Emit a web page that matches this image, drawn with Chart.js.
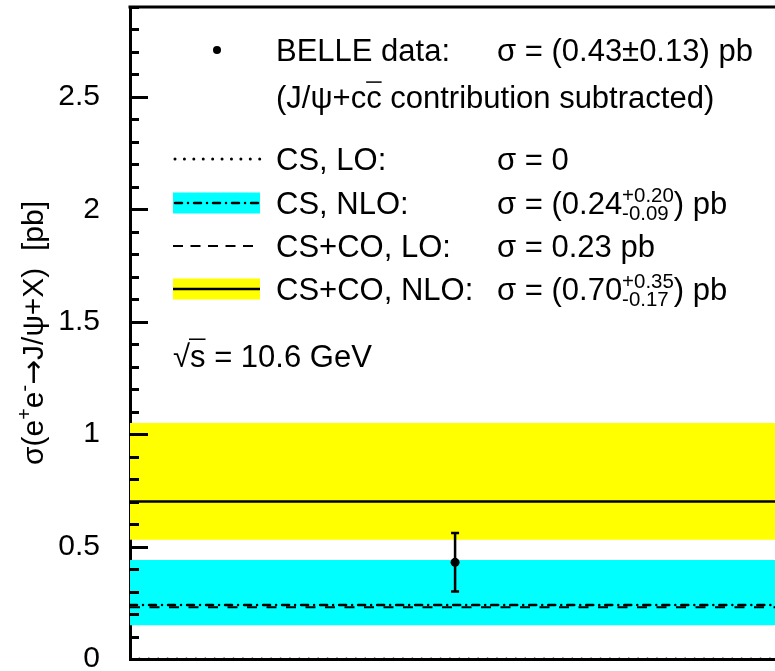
<!DOCTYPE html>
<html>
<head>
<meta charset="utf-8">
<script src="https://cdn.jsdelivr.net/npm/chart.js@4.4.1/dist/chart.umd.min.js"></script>
<style>
    html, body { margin: 0; padding: 0; background: #fff; }
    canvas { display: block; }
</style>
</head>
<body>
<canvas id="grafico" width="775" height="671"></canvas>
<script>
const FONTE = "'Liberation Sans', Arial, sans-serif";

// extremos em x das linhas teoricas (o eixo x nao tem significado)
const xLimites = [0, 1];

// dados BELLE
const belleX = [0.504];
const belleY = [0.43];
const belleErro = [0.13];

// previsoes teoricas (pb)
const csLO = [0, 0];
const csNLO = [0.24, 0.24];
const csNLOmax = [0.44, 0.44];
const csNLOmin = [0.15, 0.15];
const cscoLO = [0.23, 0.23];
const cscoNLO = [0.70, 0.70];
const cscoNLOmax = [1.05, 1.05];
const cscoNLOmin = [0.53, 0.53];

// eixo y
const yMin = 0, yMax = 2.9, yPasso = 0.1;
const yPrincipais = [0, 0.5, 1, 1.5, 2, 2.5];
const yRotulos = ['0', '0.5', '1', '1.5', '2', '2.5'];

const fmt = v => v.toFixed(2);
const pontos = arr => arr.map((y, i) => ({ x: xLimites[i], y: y }));

function indicePrincipal(v) {
    return yPrincipais.findIndex(p => Math.abs(p - v) < 1e-6);
}

// texto com sobrescrito/subscrito e barra superior
function textoRico(ctx, partes, x, y, tam) {
    let cx = x;
    for (const p of partes) {
        if (typeof p === 'string') {
            ctx.font = tam + 'px ' + FONTE;
            ctx.fillText(p, cx, y);
            cx += ctx.measureText(p).width;
        } else if (p.seta) {
            ctx.font = tam + "px 'DejaVu Sans'";
            ctx.fillText(p.seta, cx, y);
            cx += ctx.measureText(p.seta).width;
        } else if (p.barra) {
            ctx.font = tam + 'px ' + FONTE;
            const w = ctx.measureText(p.barra).width;
            ctx.fillText(p.barra, cx, y);
            ctx.fillRect(cx + (p.dx || 0), y - tam * (p.alt || 0.84), w - (p.dx || 0), 1.5);
            cx += w;
        } else {
            const t = tam * 0.66;
            ctx.font = t + 'px ' + FONTE;
            let w = 0;
            if (p.sup) {
                ctx.fillText(p.sup, cx, y - tam * 0.4);
                w = Math.max(w, ctx.measureText(p.sup).width);
            }
            if (p.sub) {
                ctx.fillText(p.sub, cx, y + tam * 0.2);
                w = Math.max(w, ctx.measureText(p.sub).width);
            }
            cx += w;
        }
    }
    return cx - x;
}

function larguraRica(ctx, partes, tam) {
    ctx.save();
    ctx.globalAlpha = 0;
    const w = textoRico(ctx, partes, 0, 0, tam);
    ctx.restore();
    return w;
}

// tracos internos do eixo y, moldura superior, barra de erro e titulo do eixo
const moldura = {
    id: 'moldura',
    afterDatasetsDraw(chart) {
        const ctx = chart.ctx;
        const sx = chart.scales.x, sy = chart.scales.y;
        ctx.save();
        ctx.strokeStyle = '#000';
        ctx.lineWidth = 2.5;
        for (let i = 0; i < belleX.length; i++) {
            const x = sx.getPixelForValue(belleX[i]);
            const y1 = sy.getPixelForValue(belleY[i] + belleErro[i]);
            const y2 = sy.getPixelForValue(belleY[i] - belleErro[i]);
            ctx.beginPath();
            ctx.moveTo(x, y1); ctx.lineTo(x, y2);
            ctx.moveTo(x - 4, y1); ctx.lineTo(x + 4, y1);
            ctx.moveTo(x - 4, y2); ctx.lineTo(x + 4, y2);
            ctx.stroke();
        }
        ctx.restore();
    },
    afterDraw(chart) {
        const ctx = chart.ctx;
        const area = chart.chartArea;
        const sy = chart.scales.y;
        ctx.save();
        ctx.strokeStyle = '#000';
        ctx.lineWidth = 3;
        ctx.beginPath();
        ctx.moveTo(area.left - 1.5, area.top);
        ctx.lineTo(area.right, area.top);
        sy.ticks.forEach(t => {
            const y = Math.round(sy.getPixelForValue(t.value)) + 0.5;
            const comp = indicePrincipal(t.value) >= 0 ? 18 : 9;
            ctx.moveTo(area.left, y);
            ctx.lineTo(area.left + comp, y);
        });
        ctx.stroke();

        // titulo do eixo y
        ctx.fillStyle = '#000';
        ctx.textBaseline = 'alphabetic';
        const titulo = ['σ(e', { sup: '+' }, 'e', { sup: '-' }, { seta: '→' }, 'J/ψ+X)  [pb]'];
        const w = larguraRica(ctx, titulo, 30);
        ctx.translate(43, 333);
        ctx.rotate(-Math.PI / 2);
        textoRico(ctx, titulo, -w / 2, 0, 30);
        ctx.restore();
    }
};

// legenda desenhada dentro da area do grafico
const legenda = {
    id: 'legenda',
    afterDraw(chart) {
        const ctx = chart.ctx;
        const tam = 31;
        const xA = 173, xB = 260, xTexto = 276, xValor = 497;
        const linhas = [
            { y: 50, amostra: 'ponto', texto: ['BELLE data:'],
              valor: ['σ = (' + fmt(belleY[0]) + '±' + fmt(belleErro[0]) + ') pb'] },
            { y: 97, texto: ['(J/ψ+c', { barra: 'c', alt: 0.86 }, ' contribution subtracted)'] },
            { y: 159, amostra: 'pontilhado', texto: ['CS, LO:'], valor: ['σ = ' + csLO[0]] },
            { y: 203, amostra: 'cs', texto: ['CS, NLO:'],
              valor: ['σ = (' + fmt(csNLO[0]), { sup: '+' + fmt(csNLOmax[0] - csNLO[0]), sub: '-' + fmt(csNLO[0] - csNLOmin[0]) }, ') pb'] },
            { y: 246, amostra: 'tracejado', texto: ['CS+CO, LO:'], valor: ['σ = ' + fmt(cscoLO[0]) + ' pb'] },
            { y: 289, amostra: 'csco', texto: ['CS+CO, NLO:'],
              valor: ['σ = (' + fmt(cscoNLO[0]), { sup: '+' + fmt(cscoNLOmax[0] - cscoNLO[0]), sub: '-' + fmt(cscoNLO[0] - cscoNLOmin[0]) }, ') pb'] }
        ];
        ctx.save();
        ctx.fillStyle = '#000';
        ctx.strokeStyle = '#000';
        ctx.textBaseline = 'alphabetic';
        linhas.forEach(l => {
            const yb = l.y + 11;
            ctx.setLineDash([]);
            ctx.lineCap = 'butt';
            if (l.amostra === 'ponto') {
                ctx.beginPath();
                ctx.arc(217, l.y, 4, 0, Math.PI * 2);
                ctx.fill();
            } else if (l.amostra === 'pontilhado') {
                ctx.lineWidth = 3;
                ctx.lineCap = 'round';
                ctx.setLineDash([0.01, 9.4]);
                ctx.beginPath(); ctx.moveTo(xA + 2, l.y); ctx.lineTo(xB, l.y); ctx.stroke();
            } else if (l.amostra === 'cs') {
                ctx.fillStyle = '#00ffff';
                ctx.fillRect(xA, l.y - 10.5, xB - xA, 21);
                ctx.fillStyle = '#000';
                ctx.lineWidth = 2.5;
                ctx.lineCap = 'round';
                ctx.setLineDash([7, 6, 0.01, 6]);
                ctx.beginPath(); ctx.moveTo(xA + 2, l.y); ctx.lineTo(xB, l.y); ctx.stroke();
            } else if (l.amostra === 'tracejado') {
                ctx.lineWidth = 2;
                ctx.setLineDash([10, 7.5]);
                ctx.beginPath(); ctx.moveTo(xA, l.y); ctx.lineTo(xB, l.y); ctx.stroke();
            } else if (l.amostra === 'csco') {
                ctx.fillStyle = '#ffff00';
                ctx.fillRect(xA, l.y - 10.5, xB - xA, 21);
                ctx.fillStyle = '#000';
                ctx.lineWidth = 2.5;
                ctx.beginPath(); ctx.moveTo(xA, l.y); ctx.lineTo(xB, l.y); ctx.stroke();
            }
            textoRico(ctx, l.texto, xTexto, yb, tam);
            if (l.valor) textoRico(ctx, l.valor, xValor, yb, tam);
        });
        textoRico(ctx, ['√', { barra: 's', alt: 0.92, dx: -1 }, ' = 10.6 GeV'], xA, 356 + 11, tam);
        ctx.restore();
    }
};

const linha = (dados, extra) => Object.assign({
    type: 'line',
    data: pontos(dados),
    borderColor: '#000',
    borderWidth: 2.5,
    pointRadius: 0,
    fill: false
}, extra);

new Chart(document.getElementById('grafico'), {
    type: 'line',
    data: {
        datasets: [
            { type: 'scatter', label: 'BELLE', data: belleX.map((x, i) => ({ x: x, y: belleY[i] })),
              pointRadius: 4.5, pointBackgroundColor: '#000', pointBorderWidth: 0, order: 0 },
            linha(cscoNLO, { label: 'CS+CO, NLO', order: 1 }),
            linha(csNLO, { label: 'CS, NLO', borderWidth: 2.5, borderCapStyle: 'round', borderDash: [7, 6, 0.01, 6], order: 2 }),
            linha(cscoLO, { label: 'CS+CO, LO', borderWidth: 2, borderDash: [10, 9.5], order: 3 }),
            linha(csLO, { label: 'CS, LO', borderWidth: 3, borderCapStyle: 'round', borderDash: [0.01, 9.4], order: 4 }),
            linha(cscoNLOmax, { label: 'CS+CO NLO max', borderWidth: 0, fill: '+1', backgroundColor: '#ffff00', order: 5 }),
            linha(cscoNLOmin, { label: 'CS+CO NLO min', borderWidth: 0, order: 6 }),
            linha(csNLOmax, { label: 'CS NLO max', borderWidth: 0, fill: '+1', backgroundColor: '#00ffff', order: 7 }),
            linha(csNLOmin, { label: 'CS NLO min', borderWidth: 0, order: 8 })
        ]
    },
    options: {
        responsive: false,
        animation: false,
        devicePixelRatio: 1,
        layout: { autoPadding: false, padding: { left: 0, top: 7, right: 0, bottom: 12 } },
        plugins: { legend: { display: false }, tooltip: { enabled: false } },
        scales: {
            x: {
                type: 'linear',
                min: xLimites[0],
                max: xLimites[1],
                ticks: { display: false },
                grid: { display: false, drawTicks: false },
                border: { display: true, width: 3, color: '#000' },
                afterFit: s => { s.height = 0; s.paddingLeft = 0; s.paddingRight = 0; s.paddingTop = 0; s.paddingBottom = 0; }
            },
            y: {
                min: yMin,
                max: yMax,
                ticks: {
                    stepSize: yPasso,
                    autoSkip: false,
                    padding: 30,
                    color: '#000',
                    font: { family: FONTE, size: 30 },
                    callback: v => {
                        const i = indicePrincipal(v);
                        return i >= 0 ? yRotulos[i] : '';
                    }
                },
                grid: { display: false, drawTicks: false },
                border: { display: true, width: 3, color: '#000' },
                afterFit: s => { s.width = 130; s.paddingTop = 0; s.paddingBottom = 0; s.paddingLeft = 0; s.paddingRight = 0; }
            }
        }
    },
    plugins: [moldura, legenda]
});
</script>
</body>
</html>
